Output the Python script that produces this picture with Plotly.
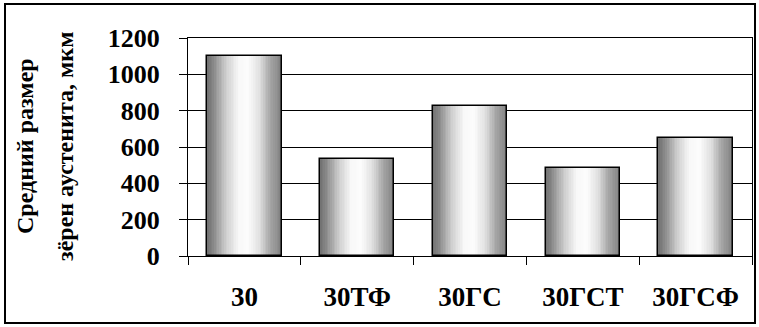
import plotly.graph_objects as go
import numpy as np

categories = ["30", "30ТФ", "30ГС", "30ГСТ", "30ГСФ"]
grain_size = [1100, 535, 828, 482, 648]
y_tick_vals = [0, 200, 400, 600, 800, 1000, 1200]
title_line1 = "Средний размер"
title_line2 = "зёрен аустенита, мкм"

FONT = "Liberation Serif"
BAR_W = 0.66
N_SLICES = 44
grad_stops = [(0.0, 112), (0.08, 135), (0.25, 205), (0.42, 248), (0.55, 252),
              (0.7, 225), (0.85, 165), (1.0, 128)]

fig = go.Figure()
sw = BAR_W / N_SLICES
ps = [s[0] for s in grad_stops]
gs = [s[1] for s in grad_stops]
for i in range(N_SLICES):
    t = (i + 0.5) / N_SLICES
    g = int(round(np.interp(t, ps, gs)))
    fig.add_trace(go.Bar(
        x=categories, y=grain_size,
        width=sw * 1.8 if i < N_SLICES - 1 else sw,
        offset=-BAR_W / 2 + i * sw,
        marker=dict(color=f"rgb({g},{g},{g})", line=dict(width=0)),
        hoverinfo="skip", showlegend=False,
    ))
fig.add_trace(go.Bar(
    x=categories, y=grain_size, width=BAR_W,
    marker=dict(color="rgba(0,0,0,0)", line=dict(color="black", width=1.5)),
    showlegend=False,
))

L, R, T, B = 188, 7, 38, 71
W, H = 759, 327
pw, ph = W - L - R, H - T - B

def px_x(px):
    return (px - L) / pw

def px_y(py):
    return (H - B - py) / ph

fig.update_layout(
    width=W, height=H,
    margin=dict(l=L, r=R, t=T, b=B),
    barmode="overlay", bargap=0,
    paper_bgcolor="white", plot_bgcolor="white",
    font=dict(family=FONT, size=24, color="black"),
    showlegend=False,
)
fig.update_xaxes(
    type="category", tickson="boundaries", ticks="outside", ticklen=8,
    tickcolor="black", tickwidth=1, showline=True, linecolor="black", linewidth=1,
    mirror=True, showgrid=False, ticklabelstandoff=17,
    tickfont=dict(family=FONT, size=27, color="black", weight="bold"),
    range=[-0.5, len(categories) - 0.5],
)
fig.update_yaxes(
    range=[0, 1200], tickvals=y_tick_vals, ticks="outside", ticklen=8,
    tickcolor="black", tickwidth=1, showline=True, linecolor="black", linewidth=1,
    mirror=True, showgrid=True, gridcolor="black", gridwidth=1, zeroline=False,
    ticklabelstandoff=14,
    tickfont=dict(family=FONT, size=26, color="black", weight="bold"),
)

for txt, cx in [(title_line1, 25), (title_line2, 65)]:
    fig.add_annotation(
        text=f"<b>{txt}</b>", xref="paper", yref="paper",
        x=px_x(cx), y=px_y(146), textangle=-90, showarrow=False,
        xanchor="center", yanchor="middle",
        font=dict(family=FONT, size=24, color="black"),
    )

fig.add_shape(
    type="rect", xref="paper", yref="paper",
    x0=px_x(5), x1=px_x(755), y0=px_y(323), y1=px_y(4),
    line=dict(color="black", width=2), fillcolor="rgba(0,0,0,0)", layer="above",
)

fig.write_html("out.html", config={"displayModeBar": False},
               post_script="document.body.style.margin='0px';")
